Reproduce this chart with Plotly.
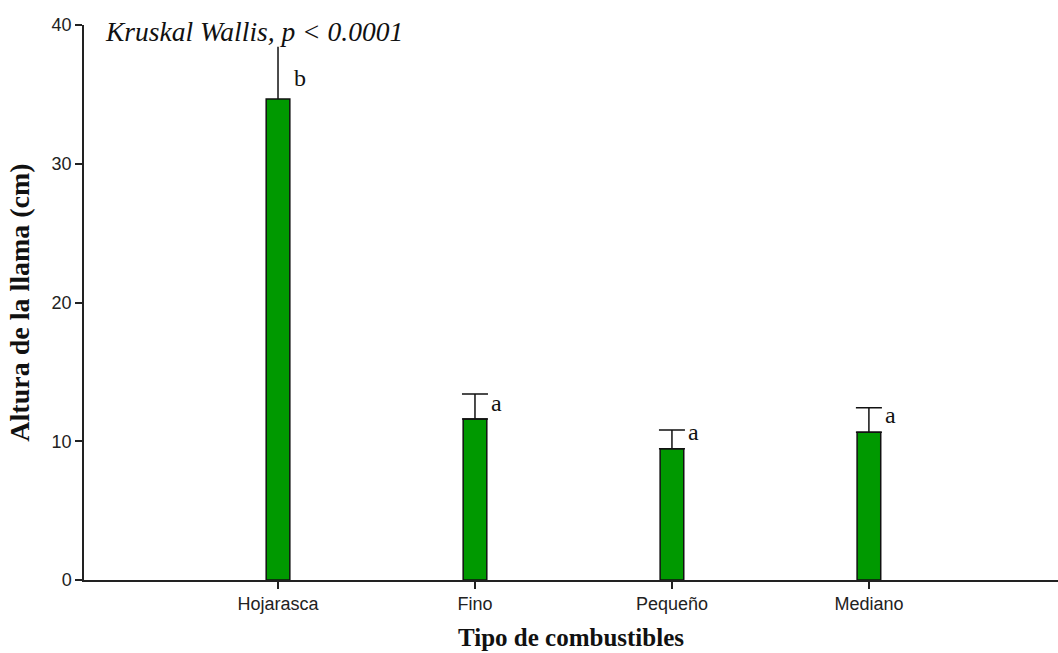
import plotly.graph_objects as go

# Flame height by fuel type: mean and upper error (cm)
categorias = ["Hojarasca", "Fino", "Pequeño", "Mediano"]
altura_media = [34.67, 11.6, 9.46, 10.65]
error_sup = [3.77, 1.8, 1.35, 1.77]
letras = ["b", "a", "a", "a"]
letra_y = [36.2, 12.75, 10.67, 11.9]
y_ticks = [0, 10, 20, 30, 40]

verde = "#009900"
serif = "Liberation Serif"
sans = "Liberation Sans"

fig = go.Figure()

fig.add_trace(go.Bar(
    x=categorias, y=altura_media, width=0.12,
    marker=dict(color=verde, line=dict(color="#111", width=1.5)),
    showlegend=False, hoverinfo="skip",
))

# Error bars: the first group is drawn without a cap
grupos = [([0], 0), ([1, 2, 3], 13)]
for idx, cap in grupos:
    fig.add_trace(go.Scatter(
        x=[categorias[i] for i in idx],
        y=[altura_media[i] for i in idx],
        mode="markers", marker=dict(size=1, opacity=0),
        error_y=dict(type="data", symmetric=False,
                     array=[error_sup[i] for i in idx],
                     arrayminus=[0] * len(idx),
                     color="#111", thickness=1.5, width=cap),
        showlegend=False, hoverinfo="skip",
    ))

for cat, txt, ly in zip(categorias, letras, letra_y):
    fig.add_annotation(x=cat, y=ly, text=txt, showarrow=False,
                       xshift=22, font=dict(family=serif, size=24, color="#111"))

fig.add_annotation(xref="paper", yref="paper", x=(103 - 84) / 974, y=1.0,
                   xanchor="left", yanchor="middle", yshift=-6,
                   text="Kruskal Wallis, p &lt; 0.0001", showarrow=False,
                   font=dict(family=serif, size=27.5, style="italic", color="#111"))

fig.update_layout(
    width=1058, height=653,
    margin=dict(l=84, r=0, t=25, b=73),
    paper_bgcolor="white", plot_bgcolor="white",
    bargap=0.1,
    xaxis=dict(
        type="category", range=[-0.985, 3.96],
        showline=True, linecolor="#222", linewidth=1.5,
        ticks="outside", ticklen=7, tickwidth=1.5, tickcolor="#222",
        tickfont=dict(family=sans, size=18, color="#222"),
        showgrid=False, zeroline=False,
        title=dict(text="<b>Tipo de combustibles</b>", standoff=15,
                   font=dict(family=serif, size=25, color="#111")),
    ),
    yaxis=dict(
        range=[0, 40], tickvals=y_ticks,
        showline=True, linecolor="#222", linewidth=1.5,
        ticks="outside", ticklen=7, tickwidth=1.5, tickcolor="#222",
        tickfont=dict(family=sans, size=18, color="#222"),
        showgrid=False, zeroline=False,
        title=dict(text="<b>Altura de la llama (cm)</b>", standoff=14,
                   font=dict(family=serif, size=28, color="#111")),
    ),
)

fig.write_html("out.html")
